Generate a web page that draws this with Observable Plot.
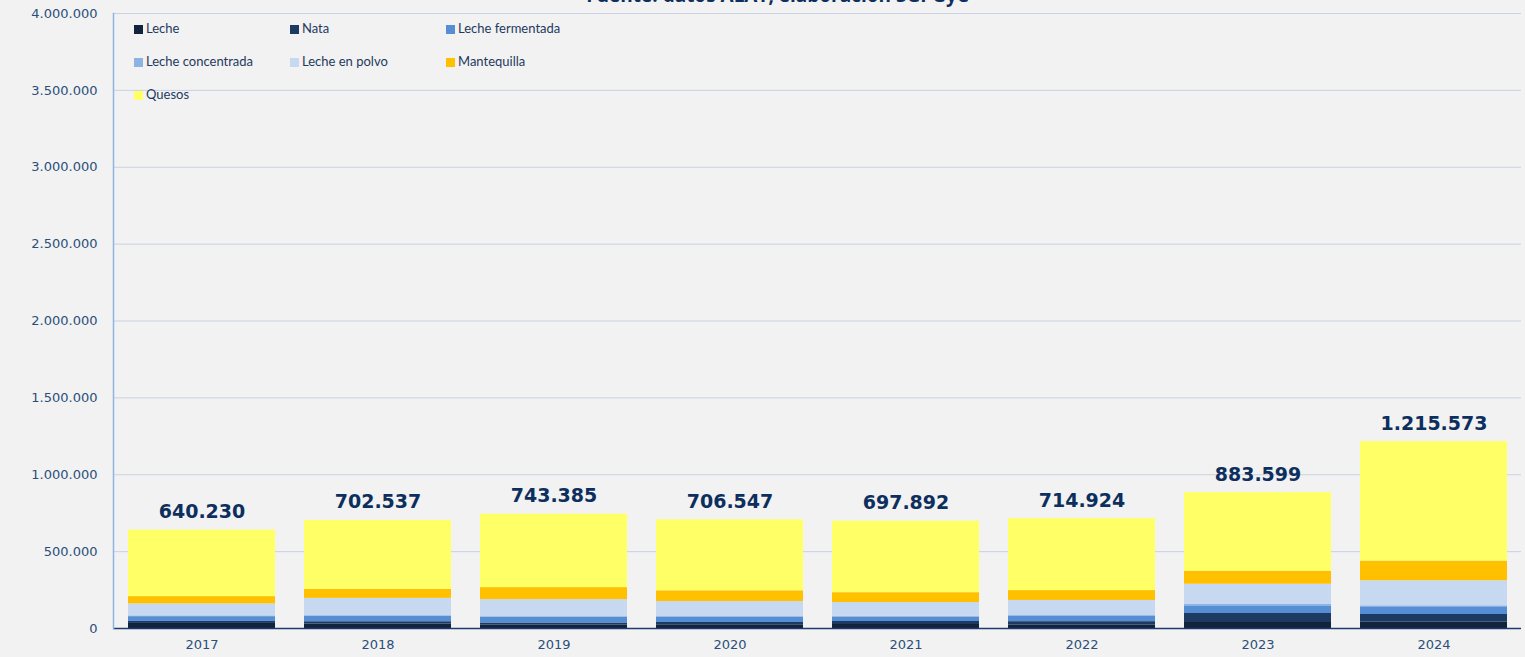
<!DOCTYPE html>
<html>
<head>
<meta charset="utf-8">
<script src="https://cdn.jsdelivr.net/npm/d3@7"></script>
<script src="https://cdn.jsdelivr.net/npm/@observablehq/plot@0.6"></script>
<style>
  html, body { margin: 0; padding: 0; background: #f2f2f2; overflow: hidden; }
  #wrap { position: relative; width: 1525px; height: 657px; }
  #title { position: absolute; top: -16px; left: 0; width: 1555px; text-align: center;
    font-family: "Open Sans", sans-serif; font-weight: 700; font-size: 19px; color: #0d2f5e; line-height: 22px; }
  #legend { position: absolute; left: 134px; top: 21px; font-family: Lato, "Open Sans", sans-serif; font-size: 13px; color: #1f3a5f; }
  .li { position: absolute; white-space: nowrap; line-height: 15px; }
  .sw { display: inline-block; width: 9px; height: 9px; margin-right: 3px; vertical-align: -1px; }
</style>
</head>
<body>
<div id="wrap">
  <div id="title">Fuente: datos ALAT, elaboración SGPGyC</div>
  <div id="chart"></div>
  <div id="legend"></div>
</div>
<script>
const years = ["2017", "2018", "2019", "2020", "2021", "2022", "2023", "2024"];
const seriesNames = ["Leche", "Nata", "Leche fermentada", "Leche concentrada", "Leche en polvo", "Mantequilla", "Quesos"];
const seriesColors = ["#12233d", "#1d3a63", "#558ed5", "#8db3e2", "#c6d9f1", "#ffc000", "#ffff66"];
const leche            = [33000, 29000, 23000, 24000, 26000, 23000, 39000, 41000];
const nata             = [13000, 15000, 13000, 15000, 19500, 21500, 58500, 50000];
const lecheFermentada  = [31000, 34500, 37000, 34500, 29000, 36000, 45500, 50000];
const lecheConcentrada = [5000, 5000, 4500, 4500, 4500, 6500, 13000, 6500];
const lecheEnPolvo     = [78000, 112500, 110500, 97600, 90000, 95600, 132000, 163000];
const mantequilla      = [47500, 58500, 78000, 69600, 64000, 64000, 84600, 128000];
const quesos           = [432730, 448037, 477385, 461347, 464892, 468324, 510999, 777073];
const totals           = [640230, 702537, 743385, 706547, 697892, 714924, 883599, 1215573];
const yTicks = [0, 500000, 1000000, 1500000, 2000000, 2500000, 3000000, 3500000, 4000000];

const seriesValues = [leche, nata, lecheFermentada, lecheConcentrada, lecheEnPolvo, mantequilla, quesos];
const data = [];
seriesNames.forEach((s, i) => years.forEach((y, j) => data.push({year: y, serie: s, value: seriesValues[i][j]})));
const totalData = years.map((y, j) => ({year: y, total: totals[j]}));

const es = d3.formatLocale({decimal: ",", thousands: ".", grouping: [3], currency: ["", "€"]});
const fmt = es.format(",d");

const chart = Plot.plot({
  width: 1525,
  height: 657,
  marginLeft: 113,
  marginRight: 4,
  marginTop: 13,
  marginBottom: 29,
  style: {background: "transparent", fontFamily: "'DejaVu Sans', sans-serif"},
  x: {domain: years, paddingInner: 0.165, paddingOuter: 0.0825, label: null},
  y: {domain: [0, 4000000], label: null},
  color: {domain: seriesNames, range: seriesColors},
  marks: [
    Plot.gridY(yTicks, {stroke: "#c9d1e3", strokeOpacity: 1, strokeWidth: 1}),
    Plot.barY(data, {x: "year", y: "value", fill: "serie", order: seriesNames}),
    Plot.text(totalData, {x: "year", y: "total", text: d => fmt(d.total), lineAnchor: "bottom", dy: -12,
      fontSize: 19, fontWeight: 700, fill: "#0d2f5e", fontFamily: "'DejaVu Sans', sans-serif"}),
    Plot.ruleY([0], {stroke: "#1f3a6e", strokeWidth: 1.5}),
    Plot.frame({anchor: "left", stroke: "#8eb4e3", strokeWidth: 1.5}),
    Plot.axisY(yTicks, {tickSize: 0, tickPadding: 16, tickFormat: fmt, fontSize: 13, fill: "#2b4f7a", label: null,
      fontFamily: "'DejaVu Sans', sans-serif"}),
    Plot.axisX({tickSize: 0, tickPadding: 11, fontSize: 13, fill: "#2b4f7a", label: null,
      fontFamily: "'DejaVu Sans', sans-serif"})
  ]
});
document.getElementById("chart").appendChild(chart);

const legend = document.getElementById("legend");
const colX = [0, 156, 312];
const rowY = [0, 33, 66];
seriesNames.forEach((s, i) => {
  const d = document.createElement("div");
  d.className = "li";
  d.style.left = colX[i % 3] + "px";
  d.style.top = rowY[Math.floor(i / 3)] + "px";
  d.innerHTML = `<span class="sw" style="background:${seriesColors[i]}"></span>${s}`;
  legend.appendChild(d);
});
</script>
</body>
</html>
